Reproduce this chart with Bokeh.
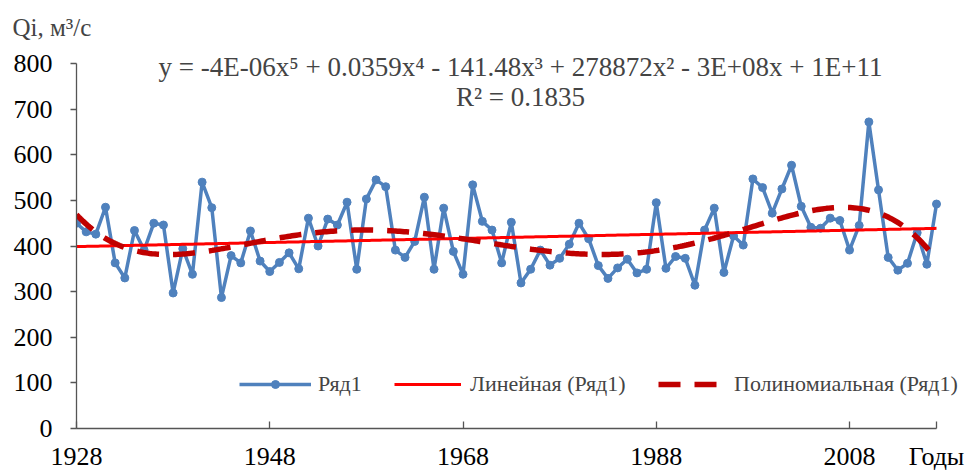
import numpy as np
from bokeh.plotting import figure
from bokeh.models import Range1d, Label, Legend, LegendItem, FixedTicker, Title
from bokeh.embed import file_html
from bokeh.resources import INLINE

# ---- data ----
years = list(range(1928, 2018))
flow = [450, 431, 426, 485, 363, 330, 434, 391, 450, 446,
        297, 394, 338, 540, 484, 287, 379, 363, 433, 367,
        344, 364, 385, 350, 461, 400, 459, 446, 496, 349,
        503, 545, 530, 391, 375, 410, 507, 349, 483, 388,
        338, 534, 454, 435, 363, 452, 319, 349, 391, 358,
        373, 404, 450, 416, 357, 329, 352, 371, 341, 349,
        495, 351, 377, 373, 314, 435, 483, 342, 422, 402,
        547, 528, 472, 525, 577, 487, 441, 439, 461, 456,
        391, 445, 672, 523, 375, 347, 362, 429, 360, 492]
x_ticks = [1928, 1948, 1968, 1988, 2008]
y_ticks = [0, 100, 200, 300, 400, 500, 600, 700, 800]
series_name = "Ряд1"
linear_name = "Линейная (Ряд1)"
poly_name = "Полиномиальная (Ряд1)"
equation = "y = -4E-06x\u2075 + 0.0359x\u2074 - 141.48x\u00b3 + 278872x\u00b2 - 3E+08x + 1E+11"
r2_text = "R\u00b2 = 0.1835"
y_title = "Qi, м\u00b3/с"
x_title = "Годы"

# ---- trend lines (fitted from the data) ----
xa = np.array(years, dtype=float)
ya = np.array(flow, dtype=float)
lin = np.polyfit(xa, ya, 1)
xc = (xa - xa.mean()) / 45.0
poly = np.polyfit(xc, ya, 5)
xf = np.linspace(xa.min(), xa.max(), 400)
lin_y = np.polyval(lin, xf)
poly_y = np.polyval(poly, (xf - xa.mean()) / 45.0)

FONT = "Liberation Serif"
BLUE = "#4F81BD"
AX = "#555555"

x_end = years[-1] + 30 / 9.663      # frame extends a little past the axis end (room for legend)
y_end = y_ticks[-1] + 23 / 0.45625  # frame extends above 800 (room for equation)

p = figure(width=971, height=473, x_range=Range1d(years[0], x_end), y_range=Range1d(0, y_end),
           output_backend="svg", toolbar_location=None,
           min_border_left=76, min_border_right=5, min_border_top=40, min_border_bottom=45)
p.outline_line_color = None
p.xgrid.visible = False
p.ygrid.visible = False

r_line = p.line(years, flow, line_color=BLUE, line_width=3.5)
r_pts = p.scatter(years, flow, size=8, fill_color=BLUE, line_color=BLUE)
r_lin = p.line(xf, lin_y, line_color="#FF0000", line_width=3)
r_poly = p.line(xf, poly_y, line_color="#C00000", line_width=5.5, line_dash="22 14")

for ax in (p.xaxis[0], p.yaxis[0]):
    ax.axis_line_color = AX
    ax.axis_line_width = 1.3
    ax.major_tick_line_color = AX
    ax.major_tick_line_width = 1.3
    ax.minor_tick_line_color = None
    ax.major_label_text_font = FONT
    ax.major_label_text_font_size = "26px"
    ax.major_label_text_color = "black"

p.xaxis.bounds = (years[0], years[-1])
p.xaxis.ticker = FixedTicker(ticks=x_ticks + [years[-1]])
p.xaxis.major_label_overrides = {years[-1]: x_title}
p.xaxis.major_tick_in = 7
p.xaxis.major_tick_out = 0
p.xaxis.major_label_standoff = 13
p.yaxis.bounds = (y_ticks[0], y_ticks[-1])
p.yaxis.ticker = FixedTicker(ticks=y_ticks)
p.yaxis.major_tick_in = 0
p.yaxis.major_tick_out = 6
p.yaxis.major_label_standoff = 18

def make_legend(label, renderers, x, gw, standoff):
    return Legend(items=[LegendItem(label=label, renderers=renderers)],
                  orientation="horizontal", location=(x, 31),
                  label_text_font=FONT, label_text_font_size="22px",
                  glyph_width=gw, glyph_height=20, label_standoff=standoff,
                  padding=0, margin=0, border_line_color=None,
                  background_fill_alpha=0)

p.add_layout(make_legend(series_name, [r_line, r_pts], 163, 72, 7))
p.add_layout(make_legend(linear_name, [r_lin], 318, 67, 9))
p.add_layout(make_legend(poly_name, [r_poly], 582, 65, 11))

p.add_layout(Title(text=y_title, align="left", offset=-64, text_font=FONT,
                   text_font_size="25px", text_font_style="normal",
                   vertical_align="bottom", standoff=0), "above")
p.add_layout(Label(x=444, y=362, x_units="screen", y_units="screen", text=equation,
                   text_font=FONT, text_font_size="27px", text_align="center",
                   text_baseline="alphabetic"))
p.add_layout(Label(x=444, y=332, x_units="screen", y_units="screen", text=r2_text,
                   text_font=FONT, text_font_size="27px", text_align="center",
                   text_baseline="alphabetic"))

open("out.html", "w").write(file_html(p, INLINE))
